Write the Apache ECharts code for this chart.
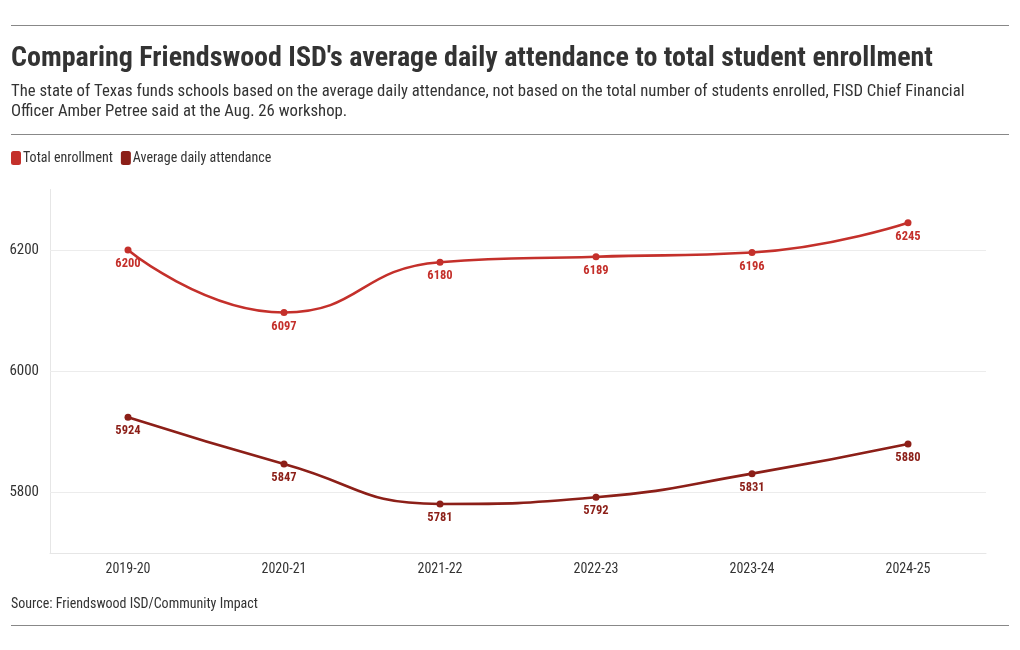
<!DOCTYPE html>
<html>
<head>
<meta charset="utf-8">
<script src="https://cdn.jsdelivr.net/npm/echarts@6/dist/echarts.min.js"></script>
<style>
html,body{margin:0;padding:0;background:#fff;}
#chart{width:1020px;height:650px;}
</style>
</head>
<body>
<div id="chart"></div>
<script>
var categories = ['2019-20','2020-21','2021-22','2022-23','2023-24','2024-25'];
var totalEnrollment = [6200, 6097, 6180, 6189, 6196, 6245];
var avgAttendance = [5924, 5847, 5781, 5792, 5831, 5880];
var yTicks = [5800, 6000, 6200];
var titleText = "Comparing Friendswood ISD's average daily attendance to total student enrollment";
var subtitleText = "The state of Texas funds schools based on the average daily attendance, not based on the total number of students enrolled, FISD Chief Financial\nOfficer Amber Petree said at the Aug. 26 workshop.";
var sourceText = "Source: Friendswood ISD/Community Impact";

var FONT = "'Roboto Condensed', 'Liberation Sans Narrow', 'DejaVu Sans Condensed', Roboto, sans-serif";
var C1 = '#c4302b', C2 = '#8c1f18';

var chart = echarts.init(document.getElementById('chart'), null, {renderer:'canvas'});

function series(name, data, color, withGrid) {
  var s = {
    name: name, type: 'line', data: data, smooth: 0.5,
    symbol: 'circle', symbolSize: 7,
    itemStyle: {color: color},
    lineStyle: {color: color, width: 2.6},
    label: {show: true, position: 'bottom', distance: 4, color: color,
            fontFamily: FONT, fontWeight: 'bold', fontSize: 12.5},
    emphasis: {disabled: true},
    z: 3
  };
  if (withGrid) {
    s.markLine = {
      silent: true, symbol: 'none', label: {show: false},
      lineStyle: {color: '#ececec', width: 1, type: 'solid'},
      data: yTicks.map(function(v){ return {yAxis: v}; }),
      z: 1, animation: false
    };
  }
  return s;
}

chart.setOption({
  animation: false,
  backgroundColor: '#fff',
  textStyle: {fontFamily: FONT},
  title: [
    {text: titleText, left: 11, top: 45, padding: 0,
     textStyle: {fontFamily: FONT, fontSize: 28, fontWeight: 'bold', color: '#333'}},
    {text: subtitleText, left: 11, top: 82, padding: 0,
     textStyle: {fontFamily: FONT, fontSize: 16.7, fontWeight: 'normal', color: '#333', lineHeight: 20}},
    {text: sourceText, left: 11, top: 597, padding: 0,
     textStyle: {fontFamily: FONT, fontSize: 14, fontWeight: 'normal', color: '#333'}}
  ],
  graphic: [
    {type:'line', shape:{x1:11,y1:25.5,x2:1009,y2:25.5}, style:{stroke:'#888', lineWidth:1}},
    {type:'line', shape:{x1:11,y1:134.5,x2:1009,y2:134.5}, style:{stroke:'#888', lineWidth:1}},
    {type:'line', shape:{x1:11,y1:625.5,x2:1009,y2:625.5}, style:{stroke:'#888', lineWidth:1}}
  ],
  legend: {
    left: 11, top: 151, padding: 0, itemWidth: 10, itemHeight: 14, itemGap: 8,
    icon: 'roundRect',
    textStyle: {fontFamily: FONT, fontSize: 14, color: '#333', padding: [0,0,0,-3]},
    data: ['Total enrollment', 'Average daily attendance']
  },
  grid: {left: 50, right: 34, top: 189.5, bottom: 97, containLabel: false},
  xAxis: {
    type: 'category', data: categories, boundaryGap: true,
    axisLine: {show: true, lineStyle: {color: '#e6e6e6'}},
    axisTick: {show: false},
    axisLabel: {color: '#333', fontFamily: FONT, fontSize: 14, margin: 9, interval: 0}
  },
  yAxis: {
    type: 'value', min: 5700, max: 6300, interval: 100,
    axisLine: {show: true, lineStyle: {color: '#e6e6e6'}},
    axisTick: {show: false},
    splitLine: {show: false},
    axisLabel: {color: '#333', fontFamily: FONT, fontSize: 15, margin: 11,
      formatter: function(v){ return yTicks.indexOf(v) >= 0 ? String(v) : ''; }}
  },
  series: [
    series('Total enrollment', totalEnrollment, C1, true),
    series('Average daily attendance', avgAttendance, C2, false)
  ]
});
</script>
</body>
</html>
